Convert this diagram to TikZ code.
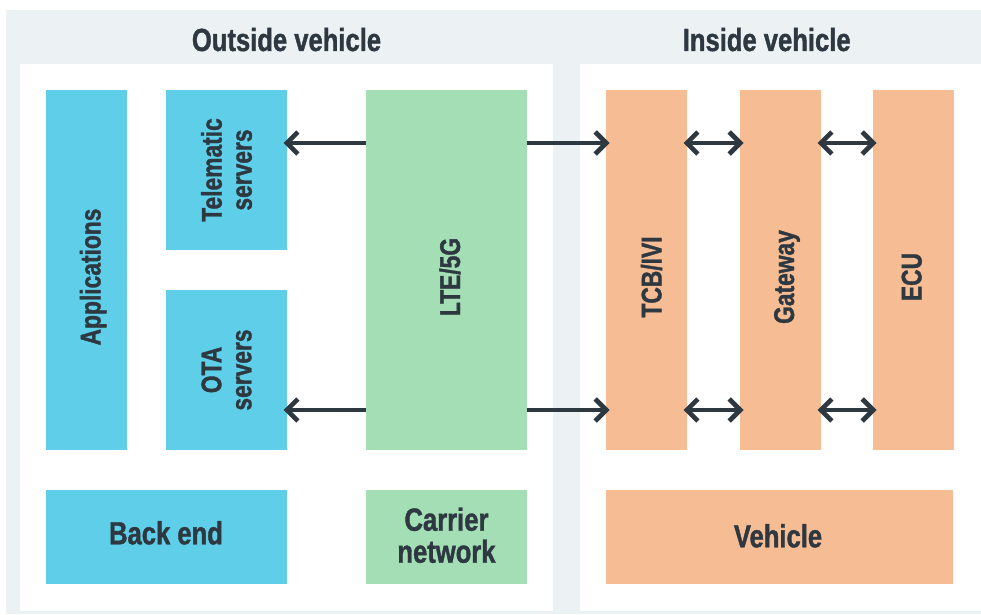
\documentclass[tikz,border=0pt]{standalone}
\usepackage{fontspec}
\newfontfamily\lblfont[FakeStretch=0.8, FakeBold=1.2]{Liberation Sans Bold}
\usetikzlibrary{arrows.meta}
\definecolor{panelgray}{HTML}{ECF1F4}
\definecolor{boxblue}{HTML}{5FCFE9}
\definecolor{boxgreen}{HTML}{A4DEB5}
\definecolor{boxorange}{HTML}{F6BC94}
\definecolor{inkdark}{HTML}{2E3841}
\tikzset{
  blk/.style={rectangle, inner sep=0pt, outer sep=0pt, minimum width=81pt, minimum height=360pt},
  lowblk/.style={blk, minimum height=94pt},
  vtxt/.style={rotate=90, anchor=base, inner sep=0pt, text=inkdark, font=\lblfont\fontsize{28.5}{30}\selectfont},
  vtxttwo/.style={rotate=90, align=center, inner sep=0pt, text=inkdark, font=\lblfont\fontsize{28.5}{30}\selectfont},
  htxt/.style={anchor=base, align=center, inner sep=0pt, text=inkdark, font=\lblfont\fontsize{32}{32}\selectfont},
  arr/.style={line width=4.7pt, draw=inkdark, shorten >=-3.5pt, -{Straight Barb[length=11pt,width=22pt]}},
  dblarr/.style={arr, shorten <=-3.5pt, {Straight Barb[length=11pt,width=22pt]}-{Straight Barb[length=11pt,width=22pt]}}
}
\begin{document}
\begin{tikzpicture}[x=1pt,y=1pt]
\useasboundingbox (0,0) rectangle (981,614);
\fill[white] (0,0) rectangle (981,614);
\fill[panelgray] (6,0) rectangle (981,604);
\fill[white] (20,3) rectangle (553,550);
\fill[white] (580,3) rectangle (981,550);

\node[htxt] (outh) at (286.5,563) {Outside vehicle};
\node[htxt] (inh) at (766.7,563) {Inside vehicle};

\node[blk, fill=boxblue] (app) at (86.5,344) {};
\node[blk, fill=boxblue, minimum width=121pt, minimum height=160pt] (tel) at (226.5,444) {};
\node[blk, fill=boxblue, minimum width=121pt, minimum height=160pt] (ota) at (226.5,244) {};
\node[blk, fill=boxgreen, minimum width=161pt] (lte) at (446.5,344) {};
\node[blk, fill=boxorange] (tcb) at (646.5,344) {};
\node[blk, fill=boxorange] (gw) at (780.5,344) {};
\node[blk, fill=boxorange] (ecu) at (913.5,344) {};
\node[lowblk, fill=boxblue, minimum width=241pt] (back) at (166.5,77) {};
\node[lowblk, fill=boxgreen, minimum width=161pt] (car) at (446.5,77) {};
\node[lowblk, fill=boxorange, minimum width=347pt] (veh) at (779.5,77) {};

\node[vtxt] (appl) at ([xshift=14pt,yshift=-7pt]app.center) {Applications};
\node[vtxttwo] (tell) at (tel.center) {Telematic\\servers};
\node[vtxttwo] (otal) at (ota.center) {OTA\\servers};
\node[vtxt] (ltel) at ([xshift=13.5pt,yshift=-7pt]lte.center) {LTE/5G};
\node[vtxt] (tcbl) at ([xshift=15pt,yshift=-7pt]tcb.center) {TCB/IVI};
\node[vtxt] (gwl) at ([xshift=13.5pt,yshift=-7pt]gw.center) {Gateway};
\node[vtxt] (ecul) at ([xshift=8pt,yshift=-7pt]ecu.center) {ECU};
\node[htxt] (backl) at ([xshift=-0.5pt,yshift=-7.3pt]back.center) {Back end};
\node[htxt] (carl) at ([yshift=-25.7pt]car.center) {Carrier\\network};
\node[htxt] (vehl) at ([xshift=-1.5pt,yshift=-10.3pt]veh.center) {Vehicle};

\foreach \dy in {-53,-320}
{
\draw[arr] ([yshift=\dy]lte.north west) -- ([yshift=\dy]tel.north east |- lte.north west);
\draw[arr] ([yshift=\dy]lte.north east) -- ([yshift=\dy]tcb.north west);
\draw[dblarr] ([yshift=\dy]tcb.north east) -- ([yshift=\dy]gw.north west);
\draw[dblarr] ([yshift=\dy]gw.north east) -- ([yshift=\dy]ecu.north west);
}
\end{tikzpicture}
\end{document}
